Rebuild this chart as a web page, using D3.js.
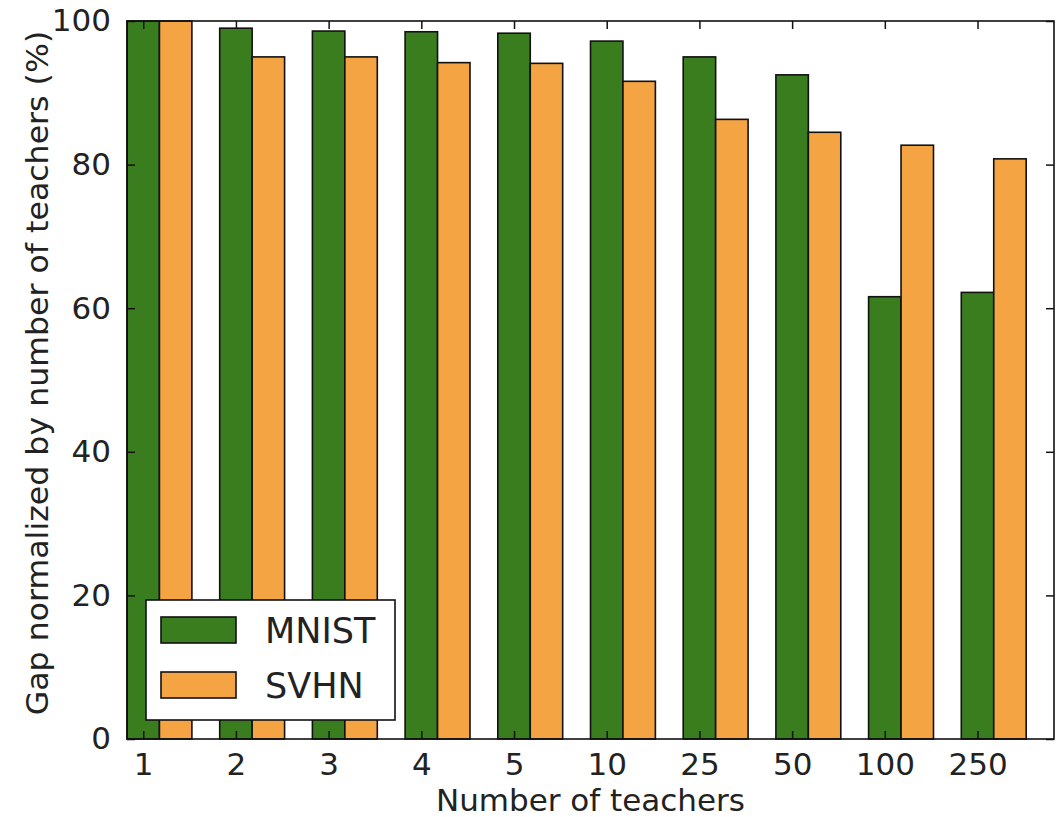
<!DOCTYPE html>
<html>
<head>
<meta charset="utf-8">
<script src="https://cdn.jsdelivr.net/npm/d3@7/dist/d3.min.js"></script>
<style>
  html, body { margin: 0; padding: 0; background: #fff; }
  svg { display: block; }
  text { font-family: "DejaVu Sans", sans-serif; fill: #222; }
</style>
</head>
<body>
<svg id="chart" width="1063" height="817"></svg>
<script>
const categories = ["1", "2", "3", "4", "5", "10", "25", "50", "100", "250"];
const mnistValues = [100, 99.0, 98.6, 98.5, 98.3, 97.2, 95.0, 92.5, 61.6, 62.2];
const svhnValues  = [100, 95.0, 95.0, 94.2, 94.1, 91.6, 86.3, 84.5, 82.7, 80.8];
const seriesNames = ["MNIST", "SVHN"];
const yTicks = [0, 20, 40, 60, 80, 100];

const colors = { MNIST: "#3a7d1f", SVHN: "#f4a442" };
const barW = 0.35;

const svg = d3.select("#chart");
const mLeft = 127, mRight = 1054, mTop = 21, mBottom = 739;

const x = d3.scaleLinear().domain([0, categories.length]).range([mLeft, mRight]);
const y = d3.scaleLinear().domain([0, 100]).range([mBottom, mTop]);

const series = [
  { name: "MNIST", values: mnistValues, offset: 0 },
  { name: "SVHN", values: svhnValues, offset: barW }
];

const bars = svg.append("g");
series.forEach(s => {
  bars.selectAll(null)
    .data(s.values)
    .enter().append("rect")
    .attr("x", (d, i) => x(i + s.offset))
    .attr("width", (d, i) => x(i + s.offset + barW) - x(i + s.offset))
    .attr("y", d => y(d))
    .attr("height", d => y(0) - y(d))
    .attr("fill", colors[s.name])
    .attr("stroke", "#111")
    .attr("stroke-width", 1.6);
});

const tickVals = categories.map((c, i) => i + barW / 2);
const fmtCat = v => categories[Math.round(v - barW / 2)];

const xAxisB = svg.append("g").attr("transform", `translate(0,${mBottom})`)
  .call(d3.axisBottom(x).tickValues(tickVals).tickFormat(fmtCat).tickSizeInner(-8).tickSizeOuter(0).tickPadding(14));
const xAxisT = svg.append("g").attr("transform", `translate(0,${mTop})`)
  .call(d3.axisTop(x).tickValues(tickVals).tickFormat("").tickSizeInner(-8).tickSizeOuter(0));
const yAxisL = svg.append("g").attr("transform", `translate(${mLeft},0)`)
  .call(d3.axisLeft(y).tickValues(yTicks).tickSizeInner(-8).tickSizeOuter(0).tickPadding(16));
const yAxisR = svg.append("g").attr("transform", `translate(${mRight},0)`)
  .call(d3.axisRight(y).tickValues(yTicks).tickFormat("").tickSizeInner(-8).tickSizeOuter(0));

[xAxisB, xAxisT, yAxisL, yAxisR].forEach(g => {
  g.select(".domain").remove();
  g.selectAll(".tick line").attr("stroke", "#111").attr("stroke-width", 1.5);
  g.selectAll(".tick text").style("font-family", "DejaVu Sans, sans-serif").style("font-size", "31px").attr("fill", "#222");
});

svg.append("rect")
  .attr("x", mLeft).attr("y", mTop)
  .attr("width", mRight - mLeft).attr("height", mBottom - mTop)
  .attr("fill", "none").attr("stroke", "#111").attr("stroke-width", 1.6);

svg.append("text")
  .attr("x", (mLeft + mRight) / 2).attr("y", 811)
  .attr("text-anchor", "middle")
  .style("font-size", "31px")
  .text("Number of teachers");

svg.append("text")
  .attr("transform", `translate(48,${(mTop + mBottom) / 2 - 7}) rotate(-90) scale(1.02,1)`)
  .attr("text-anchor", "middle")
  .style("font-size", "31px")
  .text("Gap normalized by number of teachers (%)");

const lg = svg.append("g");
lg.append("rect")
  .attr("x", 146).attr("y", 600).attr("width", 249).attr("height", 120)
  .attr("fill", "#fff").attr("stroke", "#111").attr("stroke-width", 1.6);
seriesNames.forEach((name, i) => {
  const yy = 617 + i * 55;
  lg.append("rect")
    .attr("x", 161).attr("y", yy).attr("width", 75).attr("height", 26)
    .attr("fill", colors[name]).attr("stroke", "#111").attr("stroke-width", 1.6);
  lg.append("text")
    .attr("x", 265).attr("y", yy + 26)
    .style("font-size", "35px")
    .text(name);
});
</script>
</body>
</html>
